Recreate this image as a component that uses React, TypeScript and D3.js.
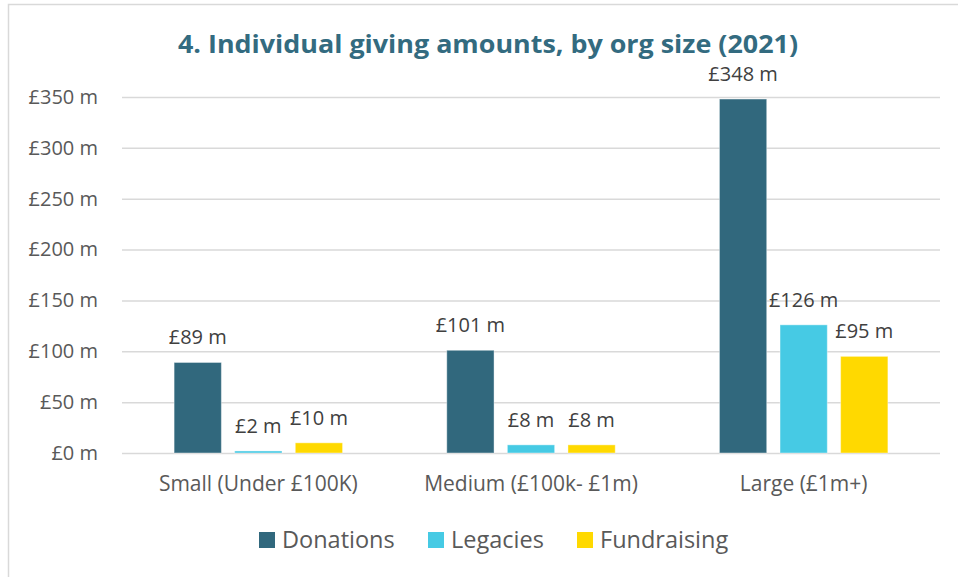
import React, { useEffect, useRef } from 'react';
import { select, scaleBand, scaleLinear, axisLeft } from 'd3';

// chart data
const categories = ['Small (Under £100K)', 'Medium (£100k- £1m)', 'Large (£1m+)'];
const seriesNames = ['Donations', 'Legacies', 'Fundraising'];
const donations = [89, 101, 348];
const legacies = [2, 8, 126];
const fundraising = [10, 8, 95];
const yTicks = [0, 50, 100, 150, 200, 250, 300, 350];
const title = '4. Individual giving amounts, by org size (2021)';

const colors = ['#31687d', '#46cae4', '#ffd900'];
const FONT = '"Open Sans", sans-serif';

function App() {
  const svgRef = useRef<SVGSVGElement>(null);

  useEffect(() => {
    const svg = select(svgRef.current);
    svg.selectAll('*').remove();

    const left = 122;
    const right = 940;
    const top = 97;
    const bottom = 453;

    const x0 = scaleBand().domain(categories).range([left, right]);
    const x1 = scaleBand()
      .domain(seriesNames)
      .range([0, x0.bandwidth()])
      .paddingInner(0.22)
      .paddingOuter(0.86);
    const y = scaleLinear().domain([0, 350]).range([bottom, top]);

    // outer frame (only top and left visible)
    svg.append('rect')
      .attr('x', 8.5).attr('y', 4.5)
      .attr('width', 1200).attr('height', 800)
      .attr('fill', 'white')
      .attr('stroke', '#d9d9d9')
      .attr('stroke-width', 1.5);

    // title
    svg.append('text')
      .attr('x', 488).attr('y', 53)
      .attr('text-anchor', 'middle')
      .attr('font-family', FONT)
      .attr('font-weight', 700)
      .attr('font-size', 25)
      .attr('fill', '#336b80')
      .attr('textLength', 620)
      .attr('lengthAdjust', 'spacingAndGlyphs')
      .text(title);

    // y axis with gridlines
    const yAxis = axisLeft(y)
      .tickValues(yTicks)
      .tickSize(-(right - left))
      .tickPadding(24)
      .tickFormat(d => `£${d} m`);
    const g = svg.append('g')
      .attr('transform', `translate(${left},0)`)
      .call(yAxis);
    g.select('.domain').remove();
    g.selectAll('.tick line')
      .attr('stroke', '#d9d9d9')
      .attr('stroke-width', 1.5);
    g.selectAll('.tick text')
      .attr('font-family', FONT)
      .attr('font-size', 20)
      .attr('fill', '#595959');

    const values = [donations, legacies, fundraising];

    // bars
    categories.forEach((cat, ci) => {
      const grp = svg.append('g').attr('transform', `translate(${x0(cat)},0)`);
      seriesNames.forEach((s, si) => {
        const v = values[si][ci];
        const bx = x1(s) as number;
        grp.append('rect')
          .attr('x', bx)
          .attr('y', y(v))
          .attr('width', x1.bandwidth())
          .attr('height', y(0) - y(v))
          .attr('fill', colors[si])
          .attr('stroke', 'white')
          .attr('stroke-opacity', 0.4)
          .attr('stroke-width', 1);
        grp.append('text')
          .attr('x', bx + x1.bandwidth() / 2)
          .attr('y', y(v) - 18)
          .attr('text-anchor', 'middle')
          .attr('font-family', FONT)
          .attr('font-size', 20)
          .attr('fill', '#404040')
          .text(`£${v} m`);
      });
      // category label
      svg.append('text')
        .attr('x', (x0(cat) as number) + x0.bandwidth() / 2)
        .attr('y', 484)
        .attr('dy', '0.35em')
        .attr('text-anchor', 'middle')
        .attr('font-family', FONT)
        .attr('font-size', 21)
        .attr('fill', '#595959')
        .text(cat);
    });

    // legend
    const legendX = [259, 428, 577];
    seriesNames.forEach((s, i) => {
      svg.append('rect')
        .attr('x', legendX[i]).attr('y', 532)
        .attr('width', 16).attr('height', 16)
        .attr('fill', colors[i]);
      svg.append('text')
        .attr('x', legendX[i] + 23)
        .attr('y', 540)
        .attr('dy', '0.35em')
        .attr('font-family', FONT)
        .attr('font-size', 23.5)
        .attr('fill', '#595959')
        .text(s);
    });
  }, []);

  return (
    <svg
      ref={svgRef}
      width={958}
      height={577}
      style={{ position: 'absolute', left: 0, top: 0, background: 'white' }}
    />
  );
}

export default App;
